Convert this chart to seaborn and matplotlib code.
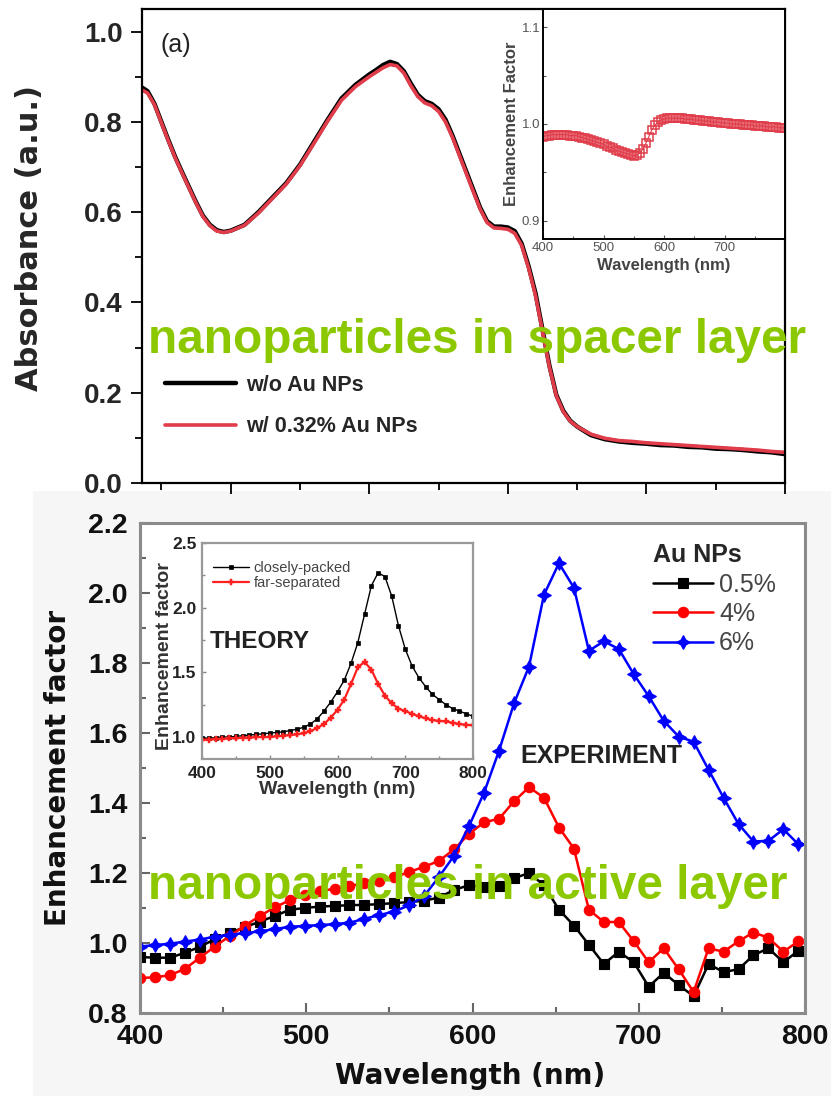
import numpy as np
import matplotlib
matplotlib.use("Agg")
import matplotlib.pyplot as plt
from matplotlib.ticker import MultipleLocator, FormatStrFormatter
from matplotlib.patches import Rectangle
import seaborn as sns

sns.set_theme(style="ticks")
plt.rcParams["font.family"] = ["Liberation Sans", "DejaVu Sans"]

# ---------------- absorbance spectra, Au NPs in spacer layer ----------------
abs_wavelength = [335, 340, 345, 350, 355, 360, 365, 370, 375, 380, 385, 390, 395, 400,
                  410, 420, 430, 440, 450, 460, 470, 480, 490, 500,
                  505, 510, 515, 520, 525, 530, 535, 540, 545, 550, 555, 560, 565, 570, 575,
                  580, 585, 590, 595, 600, 605, 610, 615, 620, 625, 630, 635, 640, 645, 650,
                  660, 670, 680, 690, 700, 710, 720, 730, 740, 750, 760, 770, 780, 790, 800]
abs_without_np = [0.878, 0.868, 0.840, 0.800, 0.760, 0.722, 0.688, 0.655, 0.622, 0.592, 0.572, 0.560, 0.556, 0.559,
                  0.572, 0.600, 0.632, 0.664, 0.705, 0.755, 0.805, 0.852, 0.882, 0.905,
                  0.915, 0.926, 0.933, 0.928, 0.912, 0.885, 0.860, 0.846, 0.840, 0.828, 0.805, 0.770, 0.730, 0.690, 0.650,
                  0.610, 0.580, 0.568, 0.568, 0.566, 0.558, 0.530, 0.480, 0.420, 0.340, 0.260, 0.195, 0.160, 0.138, 0.125,
                  0.106, 0.097, 0.092, 0.089, 0.087, 0.084, 0.083, 0.080, 0.079, 0.076, 0.075, 0.073, 0.070, 0.068, 0.064]
abs_with_np = [0.872, 0.864, 0.838, 0.798, 0.758, 0.720, 0.686, 0.653, 0.620, 0.590, 0.570, 0.558, 0.555, 0.558,
               0.571, 0.598, 0.630, 0.662, 0.703, 0.752, 0.802, 0.848, 0.878, 0.900,
               0.910, 0.920, 0.927, 0.924, 0.908, 0.880, 0.856, 0.842, 0.836, 0.823, 0.800, 0.766, 0.726, 0.686, 0.646,
               0.607, 0.577, 0.565, 0.564, 0.562, 0.553, 0.526, 0.476, 0.415, 0.336, 0.257, 0.193, 0.158, 0.137, 0.125,
               0.108, 0.099, 0.094, 0.092, 0.089, 0.087, 0.085, 0.083, 0.081, 0.079, 0.077, 0.075, 0.073, 0.070, 0.068]
abs_labels = ["w/o Au NPs", "w/ 0.32% Au NPs"]

# absorption enhancement factor (inset)
ef_abs_wavelength = list(range(400, 801, 5))
ef_abs_values = [0.987, 0.988, 0.988, 0.989, 0.989, 0.989, 0.989, 0.989, 0.989, 0.988, 0.988, 0.988, 0.987, 0.986, 0.985,
                 0.984, 0.983, 0.982, 0.981, 0.980, 0.979, 0.977, 0.976, 0.975, 0.973, 0.972, 0.971, 0.970, 0.969, 0.968, 0.967,
                 0.968, 0.970, 0.974, 0.980, 0.987, 0.994, 0.999, 1.002, 1.004, 1.005,
                 1.006, 1.006, 1.006, 1.006, 1.006, 1.006, 1.005, 1.005, 1.005, 1.004, 1.004, 1.004, 1.003, 1.003, 1.003,
                 1.002, 1.002, 1.002, 1.001, 1.001,
                 1.001, 1.000, 1.000, 1.000, 1.000, 0.999, 0.999, 0.999, 0.999, 0.998, 0.998, 0.998, 0.998, 0.997, 0.997,
                 0.997, 0.997, 0.996, 0.996, 0.996]

# ---------------- enhancement factor, Au NPs in active layer ----------------
exp_wavelength = list(range(400, 797, 9))
exp_np_05 = [0.960, 0.958, 0.958, 0.972, 0.989, 1.011, 1.029, 1.045, 1.061, 1.077,
             1.095, 1.100, 1.104, 1.106, 1.108, 1.109, 1.111, 1.114, 1.117, 1.121,
             1.130, 1.152, 1.165, 1.160, 1.162, 1.185, 1.200, 1.165, 1.095, 1.050,
             0.995, 0.940, 0.975, 0.945, 0.875, 0.915, 0.880, 0.848, 0.940, 0.917,
             0.925, 0.965, 0.985, 0.945, 0.978]
exp_np_4 = [0.900, 0.902, 0.908, 0.926, 0.958, 0.990, 1.020, 1.049, 1.077, 1.102,
            1.122, 1.138, 1.148, 1.155, 1.162, 1.172, 1.178, 1.188, 1.203, 1.218,
            1.235, 1.268, 1.312, 1.345, 1.355, 1.405, 1.445, 1.415, 1.330, 1.270,
            1.095, 1.060, 1.060, 1.005, 0.945, 0.985, 0.925, 0.860, 0.985, 0.975,
            1.005, 1.030, 1.015, 0.975, 1.005]
exp_np_6 = [0.990, 0.994, 0.998, 1.004, 1.010, 1.018, 1.024, 1.028, 1.033, 1.040,
            1.046, 1.049, 1.051, 1.054, 1.058, 1.069, 1.080, 1.090, 1.108, 1.135,
            1.190, 1.250, 1.335, 1.430, 1.550, 1.685, 1.790, 1.995, 2.085, 2.015,
            1.835, 1.862, 1.840, 1.768, 1.705, 1.635, 1.590, 1.575, 1.495, 1.415,
            1.340, 1.290, 1.292, 1.325, 1.282]
exp_labels = ["0.5%", "4%", "6%"]

# simulated enhancement (inset)
theory_wavelength = list(range(400, 801, 10))
theory_close = [0.99, 0.99, 0.995, 1.0, 1.0, 1.005, 1.01, 1.015, 1.02, 1.025,
                1.03, 1.035, 1.04, 1.05, 1.06, 1.075, 1.10, 1.14, 1.20, 1.27,
                1.35, 1.44, 1.57, 1.73, 1.95, 2.17, 2.27, 2.24, 2.09, 1.86,
                1.68, 1.55, 1.46, 1.39, 1.33, 1.29, 1.25, 1.22, 1.20, 1.18, 1.16]
theory_far = [0.98, 0.98, 0.985, 0.985, 0.99, 0.99, 0.995, 0.995, 1.0, 1.0,
              1.0, 1.005, 1.01, 1.015, 1.02, 1.03, 1.045, 1.07, 1.10, 1.15,
              1.21, 1.29, 1.41, 1.54, 1.58, 1.52, 1.41, 1.32, 1.26, 1.22,
              1.20, 1.18, 1.16, 1.145, 1.13, 1.125, 1.12, 1.11, 1.10, 1.095, 1.09]
theory_labels = ["closely-packed", "far-separated"]

W, H = 831, 1096
fig = plt.figure(figsize=(W / 100, H / 100), dpi=100)
fig.patch.set_facecolor("white")


def box(left, top, right, bottom):
    return [left / W, 1 - bottom / H, (right - left) / W, (bottom - top) / H]


def fx(px):
    return px / W


def fy(py):
    return 1 - py / H


# light panel behind the lower figure
fig.patches.append(Rectangle((fx(33), 0), 1 - fx(33), fy(491), transform=fig.transFigure,
                             facecolor="#f6f6f6", edgecolor="none", zorder=-1))

ABS_RED = "#e03c4a"

# ---------------- upper panel ----------------
ax1 = fig.add_axes(box(142, 9, 785, 483))
sns.lineplot(x=abs_wavelength, y=abs_without_np, ax=ax1, color="black", lw=3.2,
             sort=False, estimator=None, label=abs_labels[0])
sns.lineplot(x=abs_wavelength, y=abs_with_np, ax=ax1, color=ABS_RED, lw=2.6,
             sort=False, estimator=None, label=abs_labels[1])
ax1.set_xlim(336, 800)
ax1.set_ylim(0, 1.05)
ax1.xaxis.set_major_locator(MultipleLocator(100))
ax1.xaxis.set_minor_locator(MultipleLocator(50))
ax1.yaxis.set_major_locator(MultipleLocator(0.2))
ax1.yaxis.set_minor_locator(MultipleLocator(0.1))
ax1.yaxis.set_major_formatter(FormatStrFormatter("%.1f"))
ax1.tick_params(axis="both", which="both", direction="out", color="black", width=1.3)
ax1.tick_params(which="major", length=8)
ax1.tick_params(which="minor", length=5)
ax1.tick_params(axis="x", labelbottom=False)
ax1.tick_params(axis="y", labelsize=20, pad=6)
for lab in ax1.get_yticklabels():
    lab.set_fontweight("bold")
for s in ax1.spines.values():
    s.set_color("black")
    s.set_linewidth(1.6)
ax1.set_ylabel("Absorbance (a.u.)", fontsize=22, fontweight="bold", family="DejaVu Sans")
ax1.yaxis.set_label_coords(fx(44), fy(238), transform=fig.transFigure)
ax1.legend(loc="upper left", bbox_to_anchor=(fx(165), fy(375)), bbox_transform=fig.transFigure,
           frameon=False, prop={"size": 15.5, "weight": "bold"}, handlelength=3.3,
           handletextpad=0.45, labelspacing=0.95, borderpad=0, borderaxespad=0)
fig.text(fx(160), fy(45), "(a)", fontsize=18, va="center", ha="left", color="#222222")

# inset: enhancement factor of absorption
ax1i = fig.add_axes(box(543, 9, 785, 239))
sns.lineplot(x=ef_abs_wavelength, y=ef_abs_values, ax=ax1i, color=ABS_RED, lw=0.8,
             marker="s", markersize=5.5, markerfacecolor="none", markeredgecolor=ABS_RED,
             markeredgewidth=1.1, sort=False, estimator=None)
ax1i.set_xlim(400, 800)
ax1i.set_ylim(0.881, 1.119)
ax1i.set_xticks([400, 500, 600, 700, 800], labels=["400", "500", "600", "700", ""])
ax1i.xaxis.set_minor_locator(MultipleLocator(50))
ax1i.set_yticks([0.9, 1.0, 1.1], labels=["0.9", "1.0", "1.1"])
ax1i.yaxis.set_minor_locator(MultipleLocator(0.05))
ax1i.tick_params(axis="both", which="both", direction="in", color="#555555", width=0.8,
                 labelsize=9.5, labelcolor="#555555", pad=2)
ax1i.tick_params(which="major", length=3)
ax1i.tick_params(which="minor", length=2)
for s in ax1i.spines.values():
    s.set_color("black")
    s.set_linewidth(1.4)
ax1i.set_xlabel("Wavelength (nm)", fontsize=12, fontweight="bold", color="#444444", labelpad=3)
ax1i.set_ylabel("Enhancement Factor", fontsize=12, fontweight="bold", color="#444444", labelpad=2)

# ---------------- lower panel ----------------
ax2 = fig.add_axes(box(140, 523, 805, 1013))
ax2.set_facecolor("white")
series = [(exp_np_05, "black", "s", 7), (exp_np_4, "#ff0000", "o", 7.5), (exp_np_6, "#0000ff", (4, 1, 0), 10)]
for (vals, col, mk, ms), lab in zip(series, exp_labels):
    sns.lineplot(x=exp_wavelength, y=vals, ax=ax2, color=col, lw=1.8, marker=mk, markersize=ms,
                 markerfacecolor=col, markeredgecolor=col, markeredgewidth=0.8,
                 sort=False, estimator=None, label=lab)
ax2.set_xlim(400, 800)
ax2.set_ylim(0.8, 2.2)
ax2.xaxis.set_major_locator(MultipleLocator(100))
ax2.xaxis.set_minor_locator(MultipleLocator(50))
ax2.yaxis.set_major_locator(MultipleLocator(0.2))
ax2.yaxis.set_minor_locator(MultipleLocator(0.1))
ax2.yaxis.set_major_formatter(FormatStrFormatter("%.1f"))
ax2.tick_params(axis="both", which="both", direction="in", color="#666666", width=1.5,
                labelsize=20.5, labelcolor="#111111")
ax2.tick_params(which="major", length=7)
ax2.tick_params(which="minor", length=4)
ax2.tick_params(axis="y", pad=9)
ax2.tick_params(axis="x", pad=8)
for lab in ax2.get_xticklabels() + ax2.get_yticklabels():
    lab.set_fontweight("bold")
for s in ax2.spines.values():
    s.set_color("#8a8a8a")
    s.set_linewidth(2.2)
ax2.set_xlabel("Wavelength (nm)", fontsize=20, fontweight="bold", family="DejaVu Sans", color="#111111")
ax2.xaxis.set_label_coords(fx(470), fy(1062), transform=fig.transFigure)
ax2.set_ylabel("Enhancement factor", fontsize=20, fontweight="bold", family="DejaVu Sans", color="#111111")
ax2.yaxis.set_label_coords(fx(72), fy(768), transform=fig.transFigure)
ax2.legend(title="Au NPs", loc="upper left", bbox_to_anchor=(fx(653), fy(543)),
           bbox_transform=fig.transFigure, frameon=False, fontsize=18,
           title_fontproperties={"size": 18, "weight": "bold"}, alignment="left",
           handlelength=2.4, handletextpad=0.25, labelspacing=0.22, borderpad=0,
           borderaxespad=0, labelcolor="#444444")
fig.text(fx(520), fy(763), "EXPERIMENT", fontsize=18, fontweight="bold", color="#222222",
         ha="left", va="baseline", zorder=5)

# inset: simulated enhancement
ax2i = fig.add_axes(box(202, 543, 473, 759))
ax2i.set_facecolor("white")
sns.lineplot(x=theory_wavelength, y=theory_close, ax=ax2i, color="black", lw=1.0, marker="s",
             markersize=3, markerfacecolor="black", markeredgecolor="black", markeredgewidth=0.5,
             sort=False, estimator=None, label=theory_labels[0])
sns.lineplot(x=theory_wavelength, y=theory_far, ax=ax2i, color="#ff2020", lw=1.6, marker="P",
             markersize=4.5, markerfacecolor="#ff2020", markeredgecolor="#ff2020", markeredgewidth=0.3,
             sort=False, estimator=None, label=theory_labels[1])
ax2i.set_xlim(400, 800)
ax2i.set_ylim(0.83, 2.5)
ax2i.xaxis.set_major_locator(MultipleLocator(100))
ax2i.xaxis.set_minor_locator(MultipleLocator(50))
ax2i.set_yticks([1.0, 1.5, 2.0, 2.5])
ax2i.yaxis.set_minor_locator(MultipleLocator(0.25))
ax2i.yaxis.set_major_formatter(FormatStrFormatter("%.1f"))
ax2i.tick_params(axis="both", which="both", direction="in", color="#888888", width=1.0,
                 labelsize=12.5, labelcolor="#222222")
ax2i.tick_params(which="major", length=3)
ax2i.tick_params(which="minor", length=2)
ax2i.tick_params(axis="y", pad=4)
ax2i.tick_params(axis="x", pad=5)
for lab in ax2i.get_xticklabels() + ax2i.get_yticklabels():
    lab.set_fontweight("bold")
for s in ax2i.spines.values():
    s.set_color("#999999")
    s.set_linewidth(1.6)
ax2i.set_xlabel("Wavelength (nm)", fontsize=14, fontweight="bold", color="#333333", labelpad=0)
ax2i.set_ylabel("Enhancement factor", fontsize=14, fontweight="bold", color="#333333")
ax2i.yaxis.set_label_coords(fx(173), fy(656), transform=fig.transFigure)
ax2i.legend(loc="upper left", bbox_to_anchor=(fx(213), fy(561)), bbox_transform=fig.transFigure,
            frameon=False, fontsize=10.5, handlelength=2.5, handletextpad=0.3, labelspacing=0.1,
            borderpad=0, borderaxespad=0, labelcolor="#444444")
fig.text(fx(210), fy(648), "THEORY", fontsize=17.5, fontweight="bold", color="#222222",
         ha="left", va="baseline", zorder=5)

# overlay captions
GREEN = "#8cc800"
fig.text(fx(148), fy(353), "nanoparticles in spacer layer", fontsize=34.4, fontweight="bold",
         color=GREEN, ha="left", va="baseline", zorder=10)
fig.text(fx(148), fy(899), "nanoparticles in active layer", fontsize=34.4, fontweight="bold",
         color=GREEN, ha="left", va="baseline", zorder=10)

fig.savefig("out.png", dpi=100)
